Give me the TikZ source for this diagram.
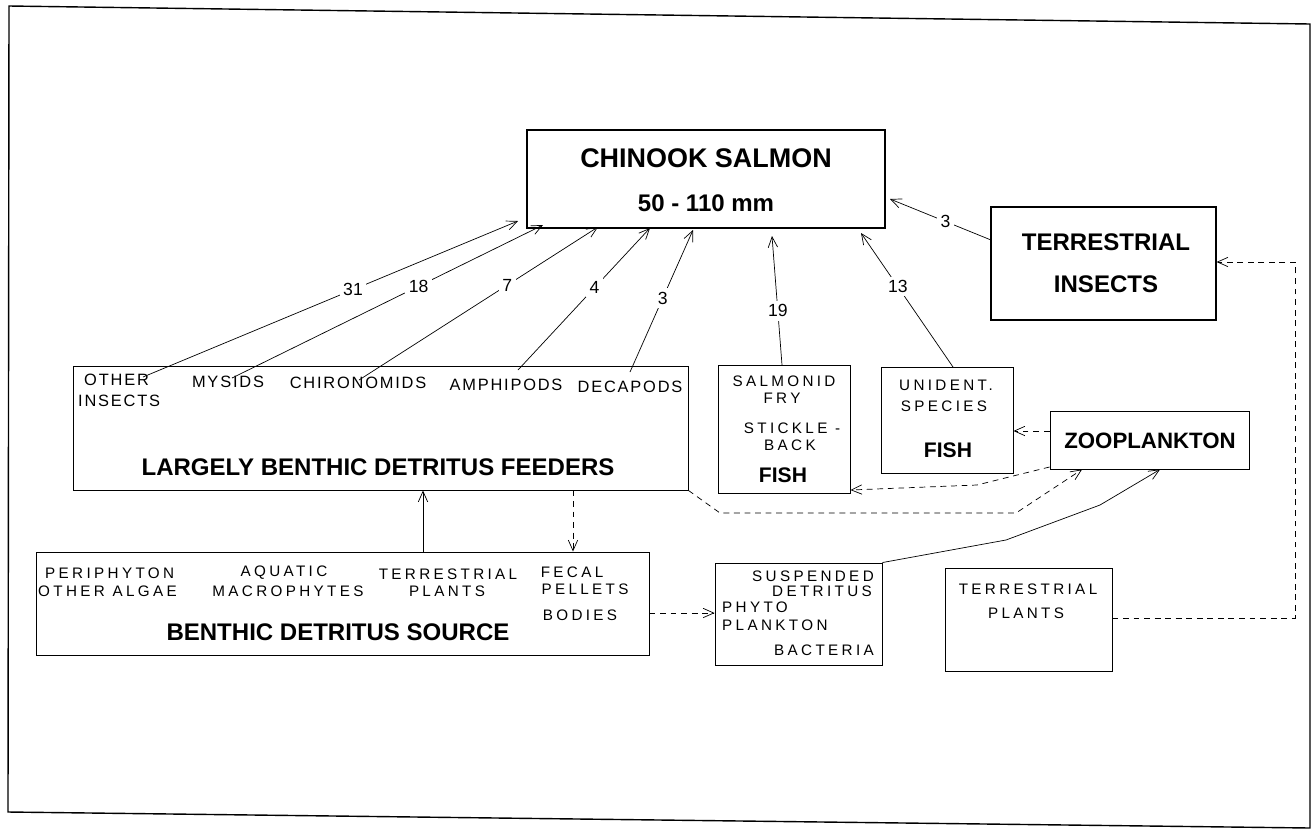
\documentclass[tikz,border=0pt]{standalone}
\usepackage{fontspec}
\setmainfont{Liberation Sans}
\newfontfamily\spaced[LetterSpace=22]{Liberation Sans}
\newfontfamily\spacedb[LetterSpace=11]{Liberation Sans}
\usetikzlibrary{arrows.meta,fit}

\begin{document}
\begin{tikzpicture}[x=0.03cm, y=-0.03cm,
  box/.style={draw, line width=0.8pt, inner sep=0pt},
  title/.style={font=\bfseries\fontsize{20.5}{22}\selectfont, inner sep=0pt},
  lbl/.style={font=\spaced\fontsize{13}{14}\selectfont, inner sep=0pt},
  prey/.style={font=\spacedb\fontsize{14}{15}\selectfont, inner sep=0pt},
  num/.style={fill=white, inner sep=3pt, font=\fontsize{15}{16}\selectfont},
  feed/.style={-{Straight Barb[length=9pt,width=8pt]}, line width=0.6pt},
  flow/.style={feed, dash pattern=on 5pt off 4pt}]

  \useasboundingbox (0,0) rectangle (1316,830);

  % Marco
  \draw[line width=1.2pt] (9,6) -- (1310,24) -- (1310,828) -- (8,812) -- cycle;

  % Salmon
  \node[box, line width=1pt, fit={(527,130) (885,228)}] (chinook) {};
  \node[title, font=\bfseries\fontsize{23}{25}\selectfont] (chinookname) at (706,158) {CHINOOK SALMON};
  \node[title] (chinooksize) at (706,203) {50 - 110 mm};

  % Insectos terrestres
  \node[box, line width=1pt, fit={(991,207) (1216,320)}] (terrins) {};
  \node[title] (terrinsa) at (1106,242) {TERRESTRIAL};
  \node[title] (terrinsb) at (1106,284) {INSECTS};

  % Consumidores bentonicos
  \node[box, fit={(73,366) (688,490)}] (feeders) {};
  \node[prey, anchor=west] (othera) at (84,380) {OTHER};
  \node[prey, anchor=west] (otherb) at (78,401) {INSECTS};
  \node[prey] (mysids) at (228,382) {MYSIDS};
  \node[prey] (chiro) at (358,383) {CHIRONOMIDS};
  \node[prey] (amphi) at (506,385) {AMPHIPODS};
  \node[prey] (decap) at (630,387) {DECAPODS};
  \node[title] (feedersname) at (378,467) {LARGELY BENTHIC DETRITUS FEEDERS};

  % Fuente bentonica
  \node[box, fit={(36,552) (649,655)}] (source) {};
  \node[lbl, anchor=west] (peri) at (45,573) {PERIPHYTON};
  \node[lbl, anchor=west] (algae) at (38,591) {OTHER ALGAE};
  \node[lbl] (aqua) at (284,573) {AQUATIC};
  \node[lbl] (macro) at (288,591) {MACROPHYTES};
  \node[lbl] (terra) at (448,574) {TERRESTRIAL};
  \node[lbl] (terrb) at (447,591) {PLANTS};
  \node[lbl] (fecal) at (572,572) {FECAL};
  \node[lbl] (pellets) at (585,589) {PELLETS};
  \node[lbl] (bodies) at (580,615) {BODIES};
  \node[title] (sourcename) at (338,632) {BENTHIC DETRITUS SOURCE};

  % Detrito suspendido
  \node[box, fit={(715,563) (882,665)}] (susp) {};
  \node[lbl, anchor=east] (suspa) at (874,576) {SUSPENDED};
  \node[lbl, anchor=east] (suspb) at (872,591) {DETRITUS};
  \node[lbl, anchor=west] (phyto) at (722,607) {PHYTO};
  \node[lbl, anchor=west] (plank) at (722,625) {PLANKTON};
  \node[lbl, anchor=east] (bact) at (874,650) {BACTERIA};

  % Plantas terrestres
  \node[box, fit={(945,568) (1112,671)}] (terrpl) {};
  \node[lbl] (terrpla) at (1028,589) {TERRESTRIAL};
  \node[lbl] (terrplb) at (1026,613) {PLANTS};

  % Peces
  \node[box, fit={(718,365) (850,493)}] (salmonid) {};
  \node[lbl] (salma) at (784,381) {SALMONID};
  \node[lbl] (salmb) at (782,398) {FRY};
  \node[lbl] (salmc) at (792,428) {STICKLE -};
  \node[lbl] (salmd) at (790,445) {BACK};
  \node[title, font=\bfseries\fontsize{18}{20}\selectfont] (salme) at (783,475) {FISH};

  \node[box, fit={(881,367) (1013,473)}] (unident) {};
  \node[lbl] (unida) at (946,385) {UNIDENT.};
  \node[lbl] (unidb) at (944,406) {SPECIES};
  \node[title, font=\bfseries\fontsize{18}{20}\selectfont] (unidc) at (948,450) {FISH};

  % Zooplancton
  \node[box, fit={(1050,411) (1249,469)}] (zoo) {};
  \node[title, font=\bfseries\fontsize{19}{21}\selectfont] (zooname) at (1150,441) {ZOOPLANKTON};

  % Puntos de las flechas
  \coordinate (s31) at (143,377);  \coordinate (t31) at (518,221);
  \coordinate (s18) at (232,378);  \coordinate (t18) at (543,225);
  \coordinate (s7) at (359,380);   \coordinate (t7) at (598,227);
  \coordinate (s4) at (518,370);   \coordinate (t4) at (650,228);
  \coordinate (s3) at (630,372);   \coordinate (t3) at (693,230);
  \coordinate (s19) at (782,365);  \coordinate (t19) at (772,236);
  \coordinate (s13) at (953,367);  \coordinate (t13) at (861,233);
  \coordinate (sti) at (991,240);  \coordinate (tti) at (890,199);

  % Dieta del salmon
  \draw[feed] (s31) -- node[num, pos=0.56] {31} (t31);
  \draw[feed] (s18) -- node[num, pos=0.6] {18} (t18);
  \draw[feed] (s7) -- node[num, pos=0.62] {7} (t7);
  \draw[feed] (s4) -- node[num, pos=0.58] {4} (t4);
  \draw[feed] (s3) -- node[num, pos=0.52] {3} (t3);
  \draw[feed] (s19) -- node[num, pos=0.42] {19} (t19);
  \draw[feed] (s13) -- node[num, pos=0.6] {13} (t13);
  \draw[feed] (sti) -- node[num, pos=0.45] {3} (tti);

  % Flujos de detrito
  \draw[feed] (source.north -| 423,0) -- (feeders.south -| 423,0);
  \draw[flow] (feeders.south -| 573,0) -- (source.north -| 573,0);
  \draw[flow] (source.east |- 0,613) -- (susp.west |- 0,613);
  \draw[flow] (zoo.west |- 0,431) -- (unident.east |- 0,431);
  \draw[flow] (zoo.west |- 0,467) -- (1005,478) -- (977,485) -- (salmonid.east |- 0,490);
  \draw[flow] (feeders.south east) -- (720,513) -- (1016,513) -- (zoo.south -| 1082,0);
  \draw[flow] (terrpl.east |- 0,618) -- (1295,618) -- (1295,262) -- (terrins.east |- 0,262);
  \draw[feed] (susp.north east) -- (1006,540) -- (1100,505) -- (zoo.south -| 1160,0);

\end{tikzpicture}
\end{document}
